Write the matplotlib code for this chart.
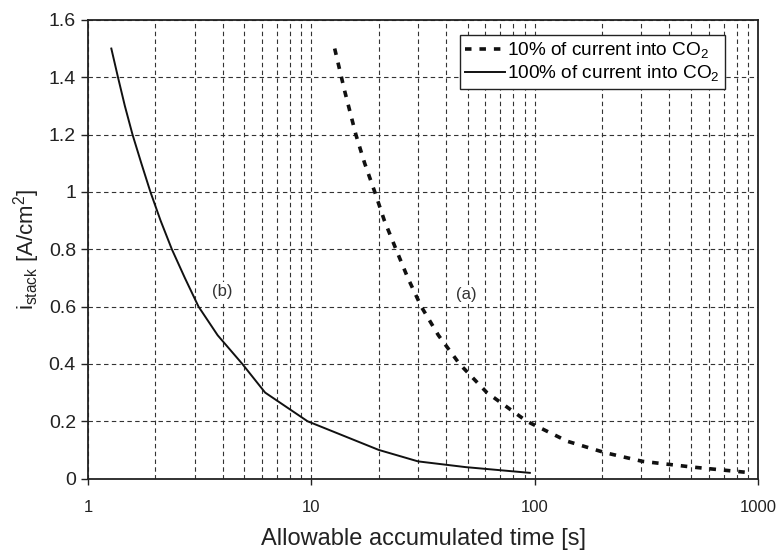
import numpy as np
import matplotlib
matplotlib.use("Agg")
import matplotlib.pyplot as plt
from matplotlib.ticker import FixedLocator, FuncFormatter, NullFormatter, LogLocator

plt.rcParams['font.family'] = ['Liberation Sans', 'DejaVu Sans']
plt.rcParams['mathtext.fontset'] = 'custom'
plt.rcParams['mathtext.rm'] = 'Liberation Sans'
plt.rcParams['mathtext.it'] = 'Liberation Sans:italic'

# (a) 10% of current into CO2
t_a = [12.7, 14.1, 15.8, 17.3, 19.2, 21.2, 23.9, 27, 31, 37, 46, 61, 92, 140, 207, 304, 510, 935]
i_a = [1.5, 1.35, 1.2, 1.1, 1.0, 0.9, 0.8, 0.7, 0.6, 0.5, 0.4, 0.3, 0.2, 0.13, 0.09, 0.06, 0.04, 0.02]

# (b) 100% of current into CO2
t_b = [1.27, 1.36, 1.46, 1.58, 1.73, 1.9, 2.11, 2.37, 2.71, 3.12, 3.8, 4.9, 6.2, 9.6, 20, 30, 49, 95]
i_b = [1.5, 1.4, 1.3, 1.2, 1.1, 1.0, 0.9, 0.8, 0.7, 0.6, 0.5, 0.4, 0.3, 0.2, 0.1, 0.06, 0.04, 0.02]

y_ticks = [0, 0.2, 0.4, 0.6, 0.8, 1.0, 1.2, 1.4, 1.6]
x_ticks = [1, 10, 100, 1000]

fig = plt.figure(figsize=(7.8, 5.52), dpi=100)
ax = fig.add_axes([0.113, 0.133, 0.859, 0.831])

ax.plot(t_a, i_a, color='#111111', lw=2.6, linestyle=(0, (1.8, 2.2)),
        label='10% of current into CO$_2$', zorder=3)
ax.plot(t_b, i_b, color='#111111', lw=1.4, label='100% of current into CO$_2$', zorder=3)

ax.set_xscale('log')
ax.set_xlim(1, 1000)
ax.set_ylim(0, 1.6)

ax.xaxis.set_major_locator(FixedLocator(x_ticks))
ax.xaxis.set_minor_locator(LogLocator(base=10, subs=np.arange(2, 10)))
ax.xaxis.set_major_formatter(FuncFormatter(lambda v, p: '%g' % v))
ax.xaxis.set_minor_formatter(NullFormatter())
ax.yaxis.set_major_locator(FixedLocator(y_ticks))
ax.yaxis.set_major_formatter(FuncFormatter(lambda v, p: '%g' % v))

gridkw = dict(color='#333333', lw=0.8, linestyle=(0, (4, 3)))
ax.grid(True, which='major', axis='both', **gridkw)
ax.grid(True, which='minor', axis='x', **gridkw)
ax.set_axisbelow(True)

ax.tick_params(axis='x', which='major', direction='out', length=4.5, width=1.0,
               pad=11, labelsize=12, colors='#222222')
ax.tick_params(axis='x', which='minor', length=0)
ax.tick_params(axis='y', which='major', direction='out', length=4.8, width=1.0,
               pad=4, labelsize=14, colors='#222222')

for s in ax.spines.values():
    s.set_linewidth(1.3)
    s.set_color('#222222')

ax.set_xlabel('Allowable accumulated time [s]', fontsize=17, labelpad=9, color='#222222')
ax.set_ylabel('i$_{\\mathrm{stack}}$ [A/cm$^2$]', fontsize=16, labelpad=5, color='#222222')

ax.text(3.97, 0.653, '(b)', fontsize=12, ha='center', va='center', color='#333333',
        bbox=dict(facecolor='white', edgecolor='none', pad=1.5), zorder=2)
ax.text(49.3, 0.641, '(a)', fontsize=12, ha='center', va='center', color='#333333',
        bbox=dict(facecolor='white', edgecolor='none', pad=1.5), zorder=2)

leg = ax.legend(loc='upper right', bbox_to_anchor=(0.956, 0.975), fontsize=13.7,
                frameon=True, fancybox=False, framealpha=1, edgecolor='#222222',
                handlelength=2.1, handletextpad=0.1, borderpad=0.28, labelspacing=0.15,
                borderaxespad=0.2)
leg.get_frame().set_linewidth(1.0)

fig.savefig('out.png', dpi=100)
